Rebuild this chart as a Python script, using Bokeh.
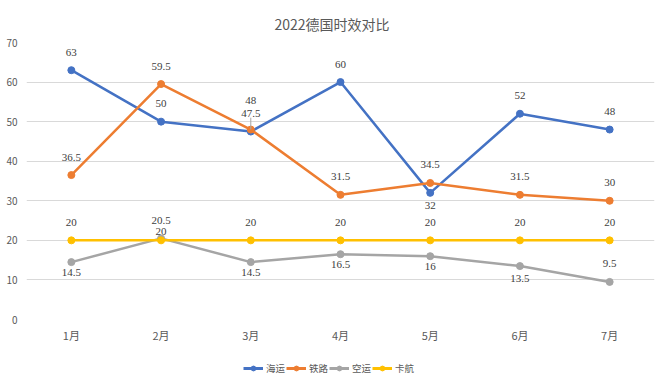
from bokeh.plotting import figure
from bokeh.models import ColumnDataSource, LabelSet, Legend, LegendItem, FixedTicker, Range1d
from bokeh.layouts import column
from bokeh.embed import file_html
from bokeh.resources import INLINE

months = ["1月", "2月", "3月", "4月", "5月", "6月", "7月"]
sea = [63, 50, 47.5, 60, 32, 52, 48]
rail = [36.5, 59.5, 48, 31.5, 34.5, 31.5, 30]
air = [14.5, 20.5, 14.5, 16.5, 16, 13.5, 9.5]
truck = [20, 20, 20, 20, 20, 20, 20]
names = ["海运", "铁路", "空运", "卡航"]
colors = ["#4472C4", "#ED7D31", "#A5A5A5", "#FFC000"]

# label offsets in screen pixels (positive = up)
offsets = [
    [18, 18, 18, 18, -13, 18, 18],
    [18, 18, 29, 18, 18, 18, 18],
    [-10, 18, -10, -10, -10, -12, 18],
    [18, 9, 18, 18, 18, 18, 18],
]

FONT = "Liberation Sans Narrow, Noto Sans CJK SC"
CJK = "Noto Sans CJK SC"
NAN = float("nan")

p = figure(width=657, height=355, x_range=months, y_range=Range1d(0, 70),
           output_backend="svg", toolbar_location=None,
           min_border_left=26, min_border_right=3, min_border_top=42, min_border_bottom=36)
p.outline_line_color = None
p.background_fill_color = "white"
p.border_fill_color = "white"

p.title.text = "2022德国时效对比"
p.title.align = "left"
p.title.vertical_align = "top"
p.title.text_font = CJK
p.title.text_font_size = "14px"
p.title.text_font_style = "normal"
p.title.text_color = "#595959"
p.title.offset = 248
p.title.standoff = 13

p.xgrid.grid_line_color = None
p.ygrid.grid_line_color = "#D9D9D9"
p.ygrid.grid_line_width = 1

for ax in (p.xaxis, p.yaxis):
    ax.axis_line_color = None
    ax.major_tick_line_color = None
    ax.minor_tick_line_color = None
    ax.major_label_text_color = "#595959"
    ax.major_label_text_font = FONT
    ax.major_label_text_font_size = "11px"
p.yaxis.major_label_text_font_size = "10px"
p.yaxis.ticker = FixedTicker(ticks=list(range(0, 71, 10)))
p.yaxis.major_label_standoff = 3
p.xaxis.major_label_standoff = 1

series = [sea, rail, air, truck]
for name, vals, col, offs in zip(names, series, colors, offsets):
    src = ColumnDataSource(dict(x=months, y=vals, lab=[("%g" % v) for v in vals], off=offs))
    p.line("x", "y", source=src, line_color=col, line_width=2.5)
    p.scatter("x", "y", source=src, size=7, fill_color=col, line_color=col)
    p.add_layout(LabelSet(x="x", y="y", text="lab", source=src, y_offset="off",
                          text_align="center", text_baseline="middle",
                          text_font=FONT, text_font_size="11px", text_color="#404040"))

# leader line for the 3月 rail label
p.segment(x0=[months[2]], y0=[rail[2]], x1=[months[2]], y1=[rail[2] + 3],
          line_color="#A6A6A6", line_width=1)

# legend strip below the chart (legend proxies hold no visible points)
lf = figure(width=657, height=24, x_range=Range1d(0, 1), y_range=Range1d(0, 1),
            output_backend="svg", toolbar_location=None,
            min_border_left=0, min_border_right=0, min_border_top=0, min_border_bottom=0)
lf.axis.visible = False
lf.grid.visible = False
lf.outline_line_color = None
items = []
for name, col in zip(names, colors):
    r1 = lf.line(x=[NAN], y=[NAN], line_color=col, line_width=3)
    r2 = lf.scatter(x=[NAN], y=[NAN], size=6, fill_color=col, line_color=col)
    items.append(LegendItem(label=name, renderers=[r1, r2]))
legend = Legend(items=items, orientation="horizontal", location=(217, 4),
                label_text_font=CJK, label_text_font_size="9.5px", label_text_color="#595959",
                glyph_width=20, glyph_height=12, label_height=12, label_standoff=3, spacing=0,
                border_line_color=None, background_fill_alpha=0, padding=0, margin=0)
lf.add_layout(legend)

open("out.html", "w").write(file_html(column(p, lf, spacing=0), INLINE))
